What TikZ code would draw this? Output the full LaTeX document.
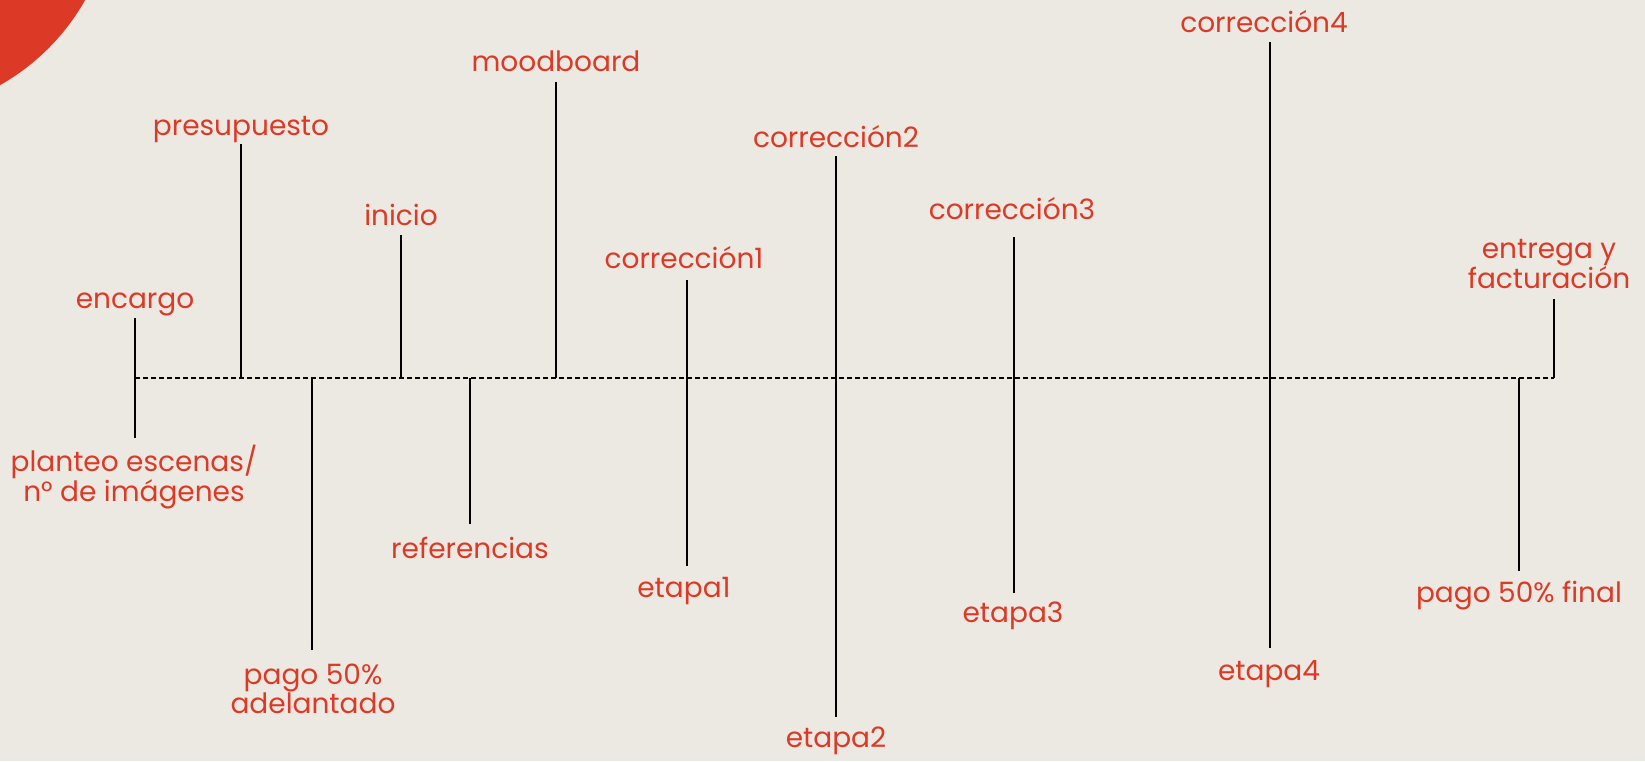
\documentclass[tikz,border=0pt]{standalone}
\usepackage{fontspec}
\setmainfont{Poppins}
\definecolor{bg}{HTML}{ECE9E3}
\definecolor{lab}{HTML}{DC3A26}
\tikzset{
  lbl/.style={text=lab, font=\fontsize{28}{28}\selectfont, align=center, inner sep=0pt, anchor=center},
  tick/.style={draw=black, line width=1.8pt},
  axis/.style={draw=black, line width=1.4pt, dash pattern=on 5pt off 3pt}
}
\begin{document}
\begin{tikzpicture}[x=1pt,y=-1pt]
\fill[bg] (0,0) rectangle (1645,761);
\useasboundingbox (0,0) rectangle (1645,761);
\begin{scope}
\clip (0,0) rectangle (1645,761);
\fill[lab] (-110,-110) circle (224);
\end{scope}
% axis points
\coordinate (a0) at (135,378);
\coordinate (aE) at (1554,378);
\draw[axis] (a0) -- (aE);
% ticks
\coordinate (t1a) at (135,318); \coordinate (t1b) at (135,438);
\coordinate (t2) at (241,144); \coordinate (x2) at (241,378);
\coordinate (t3) at (312,650); \coordinate (x3) at (312,378);
\coordinate (t4) at (401,235); \coordinate (x4) at (401,378);
\coordinate (t5) at (470,524); \coordinate (x5) at (470,378);
\coordinate (t6) at (556,82); \coordinate (x6) at (556,378);
\coordinate (t7a) at (687,280); \coordinate (t7b) at (687,566);
\coordinate (t8a) at (836,156); \coordinate (t8b) at (836,717);
\coordinate (t9a) at (1014,237); \coordinate (t9b) at (1014,593);
\coordinate (t10a) at (1270,42); \coordinate (t10b) at (1270,648);
\coordinate (t11) at (1519,571); \coordinate (x11) at (1519,378);
\coordinate (t12) at (1554,299);
\draw[tick] (t1a) -- (t1b);
\draw[tick] (t2) -- (x2);
\draw[tick] (t3) -- (x3);
\draw[tick] (t4) -- (x4);
\draw[tick] (t5) -- (x5);
\draw[tick] (t6) -- (x6);
\draw[tick] (t7a) -- (t7b);
\draw[tick] (t8a) -- (t8b);
\draw[tick] (t9a) -- (t9b);
\draw[tick] (t10a) -- (t10b);
\draw[tick] (t11) -- (x11);
\draw[tick] (t12) -- (aE);
% labels
\node[lbl] (encargo) at (135,304) {encargo};
\node[lbl] (planteo) at (134,477) {planteo escenas/\\n° de imágenes};
\node[lbl] (presupuesto) at (241,130) {presupuesto};
\node[lbl] (pago1) at (313,689) {pago 50\%\\adelantado};
\node[lbl] (inicio) at (401,215) {inicio};
\node[lbl] (referencias) at (470,548) {referencias};
\node[lbl] (moodboard) at (556,61) {moodboard};
\node[lbl] (corr1) at (684,258) {corrección1};
\node[lbl] (etapa1) at (684,591) {etapa1};
\node[lbl] (corr2) at (836,137) {corrección2};
\node[lbl] (etapa2) at (836,741) {etapa2};
\node[lbl] (corr3) at (1012,209) {corrección3};
\node[lbl] (etapa3) at (1013,616) {etapa3};
\node[lbl] (corr4) at (1264,22) {corrección4};
\node[lbl] (etapa4) at (1269,674) {etapa4};
\node[lbl] (pago2) at (1519,596) {pago 50\% final};
\node[lbl] (entrega) at (1549,264) {entrega y\\facturación};
\end{tikzpicture}
\end{document}
